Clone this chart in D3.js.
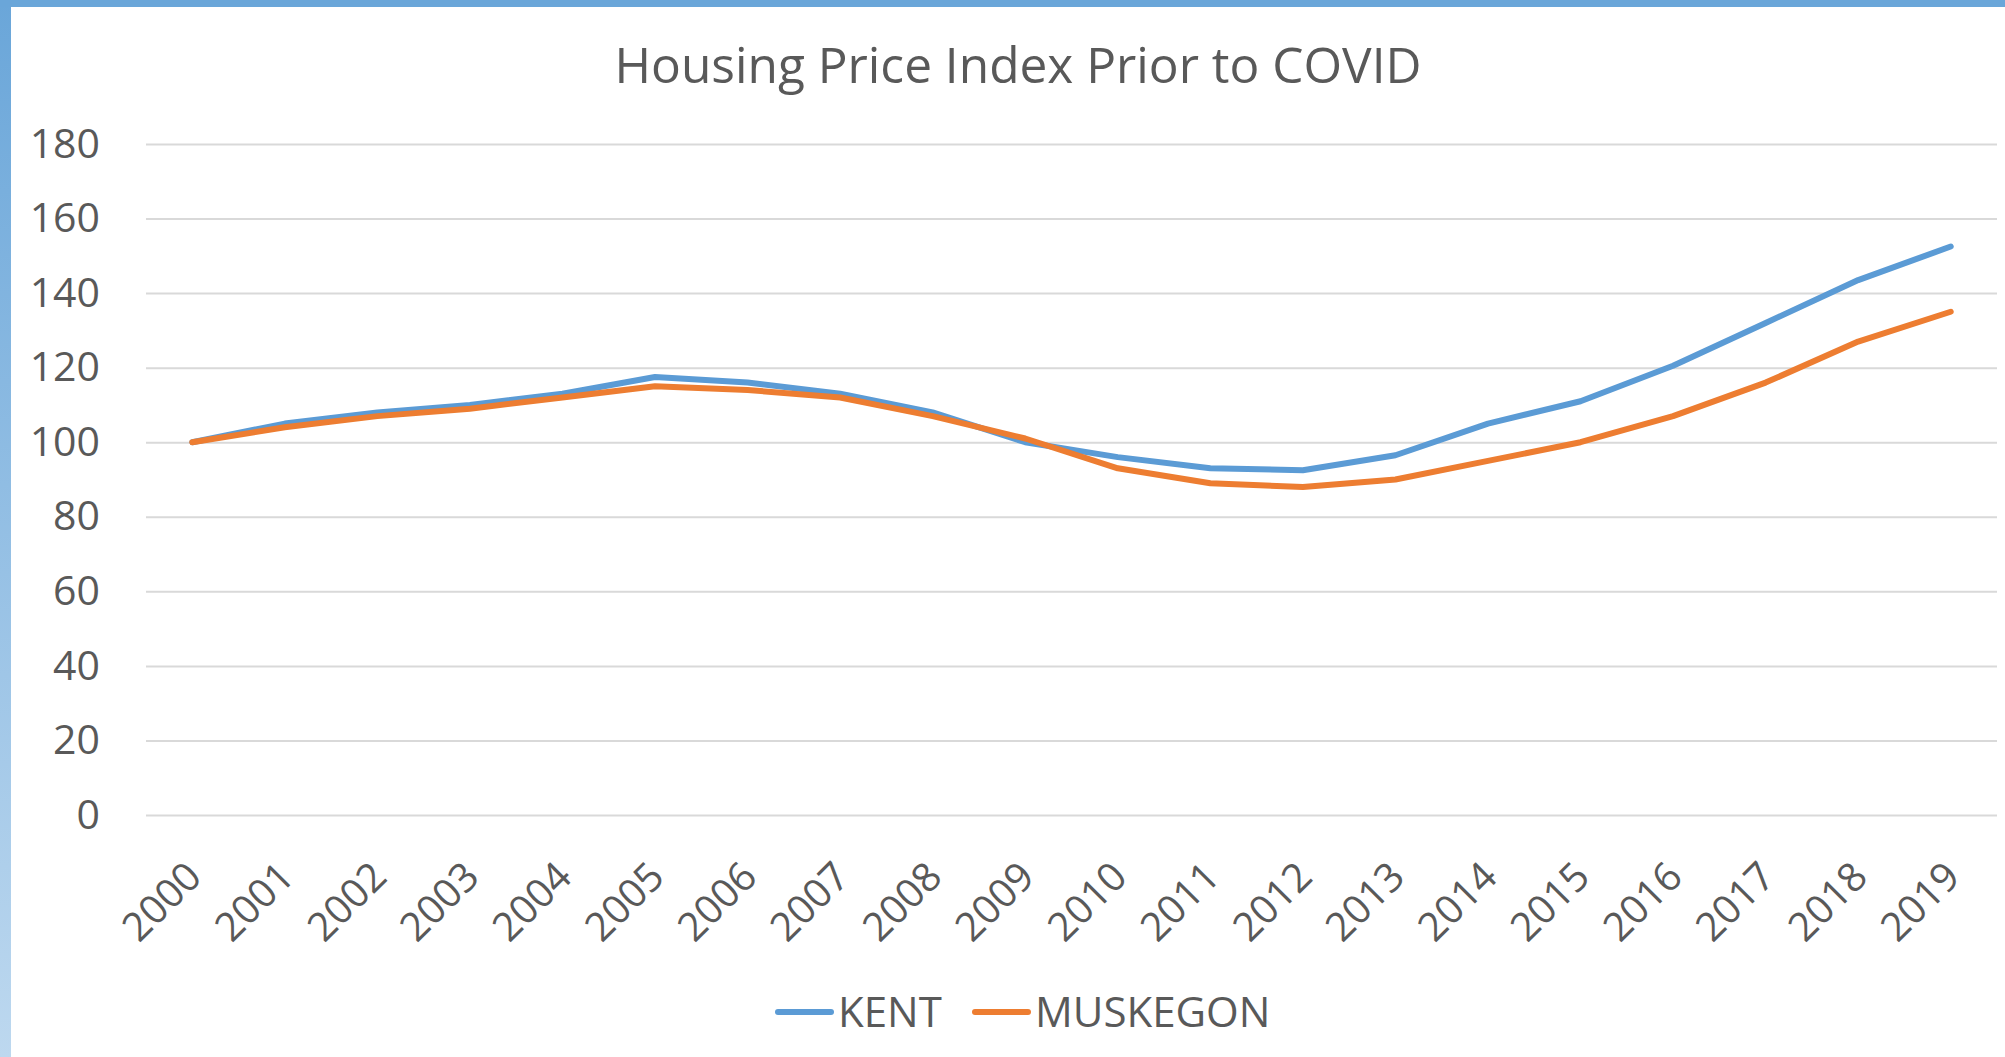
<!DOCTYPE html>
<html lang="en">

<head>
	<meta charset="UTF-8">
	<title>Housing Price Index Prior to COVID</title>
	<script src="https://cdn.jsdelivr.net/npm/d3@7/dist/d3.min.js"></script>
	<style>
		html, body { margin: 0; padding: 0; background: #ffffff; }
		svg { display: block; font-family: "Open Sans", "Noto Sans", sans-serif; }
	</style>
</head>

<body>
	<div id="chart"></div>
	<script>
		// data
		const years = ["2000", "2001", "2002", "2003", "2004", "2005", "2006", "2007", "2008", "2009",
			"2010", "2011", "2012", "2013", "2014", "2015", "2016", "2017", "2018", "2019"];
		const kent = [100, 105, 108, 110, 113, 117.5, 116, 113, 108, 100,
			96, 93, 92.5, 96.5, 105, 111, 120.5, 132, 143.5, 152.5];
		const muskegon = [100, 104, 107, 109, 112, 115, 114, 112, 107, 101,
			93, 89, 88, 90, 95, 100, 107, 116, 127, 135];
		const yTicks = [0, 20, 40, 60, 80, 100, 120, 140, 160, 180];
		const seriesNames = ["KENT", "MUSKEGON"];

		const W = 2005, H = 1057;
		const colors = { KENT: "#5b9bd5", MUSKEGON: "#ed7d31" };
		const textColor = "#595959";
		const plot = { left: 146, right: 1997, top: 144, bottom: 815 };

		const svg = d3.select("#chart").append("svg")
			.attr("width", W)
			.attr("height", H);

		// frame: blue strip on top, fading strip on the left
		const defs = svg.append("defs");
		const grad = defs.append("linearGradient")
			.attr("id", "leftFade")
			.attr("x1", 0).attr("y1", 0).attr("x2", 0).attr("y2", 1);
		grad.append("stop").attr("offset", "0%").attr("stop-color", "#6aa6d9");
		grad.append("stop").attr("offset", "100%").attr("stop-color", "#bdd8ef");

		svg.append("rect").attr("x", 0).attr("y", 0).attr("width", W).attr("height", H).attr("fill", "#ffffff");
		svg.append("rect").attr("x", 0).attr("y", 0).attr("width", 11).attr("height", H).attr("fill", "url(#leftFade)");
		svg.append("rect").attr("x", 0).attr("y", 0).attr("width", W).attr("height", 7).attr("fill", "#6aa6d9");

		// scales
		const x = d3.scalePoint().domain(years).range([plot.left, plot.right]).padding(0.5);
		const y = d3.scaleLinear().domain([0, 180]).range([plot.bottom, plot.top]);

		// gridlines + y labels
		const yAxis = d3.axisLeft(y).tickValues(yTicks).tickSize(-(plot.right - plot.left)).tickPadding(46);
		const gy = svg.append("g")
			.attr("transform", `translate(${plot.left},0)`)
			.call(yAxis);
		gy.select(".domain").remove();
		gy.selectAll(".tick line").attr("stroke", "#d9d9d9").attr("stroke-width", 2);
		gy.selectAll(".tick text")
			.attr("fill", textColor)
			.style("font-size", "41px")
			.style("font-family", "\"Open Sans\", sans-serif");

		// x labels, rotated
		const xAxis = d3.axisBottom(x).tickSize(0);
		const gx = svg.append("g")
			.attr("transform", `translate(0,${plot.bottom})`)
			.call(xAxis);
		gx.select(".domain").remove();
		gx.selectAll(".tick text")
			.attr("fill", textColor)
			.attr("text-anchor", "end")
			.attr("dy", 0)
			.attr("y", 0)
			.attr("transform", "translate(11,64) rotate(-45)")
			.style("font-size", "40px")
			.style("font-family", "\"Open Sans\", sans-serif");

		// lines
		const line = d3.line()
			.x((d, i) => x(years[i]))
			.y(d => y(d));

		const seriesData = [kent, muskegon];
		seriesNames.forEach((name, k) => {
			svg.append("path")
				.datum(seriesData[k])
				.attr("d", line)
				.attr("fill", "none")
				.attr("stroke", colors[name])
				.attr("stroke-width", 6)
				.attr("stroke-linecap", "round")
				.attr("stroke-linejoin", "round");
		});

		// title
		svg.append("text")
			.attr("x", 1018)
			.attr("y", 83)
			.attr("text-anchor", "middle")
			.attr("fill", textColor)
			.attr("textLength", 807)
			.attr("lengthAdjust", "spacingAndGlyphs")
			.style("font-size", "49px")
			.text("Housing Price Index Prior to COVID");

		// legend
		const legendX = [778, 975];
		const legend = svg.append("g").attr("transform", "translate(0,1012)");
		seriesNames.forEach((name, k) => {
			const g = legend.append("g").attr("transform", `translate(${legendX[k]},0)`);
			g.append("line")
				.attr("x1", 0).attr("x2", 53)
				.attr("y1", 0).attr("y2", 0)
				.attr("stroke", colors[name])
				.attr("stroke-width", 6)
				.attr("stroke-linecap", "round");
			g.append("text")
				.attr("x", 60)
				.attr("y", 15)
				.attr("fill", textColor)
				.style("font-size", "42px")
				.text(name);
		});
	</script>
</body>

</html>
